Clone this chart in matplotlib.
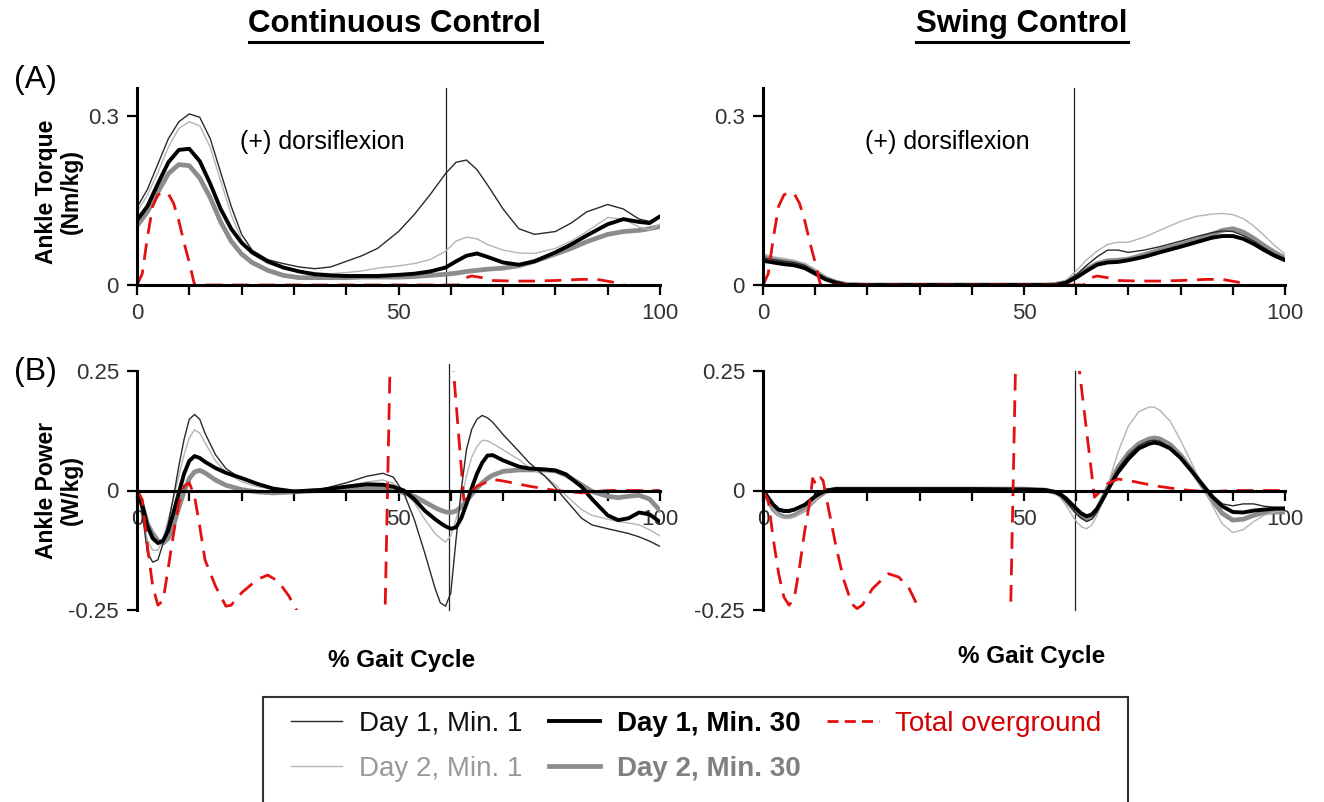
import numpy as np
import matplotlib
matplotlib.use('Agg')
import matplotlib.pyplot as plt
from matplotlib.lines import Line2D
from matplotlib.patches import Rectangle

plt.rcParams['font.family'] = ['Liberation Sans', 'DejaVu Sans']

# ---------------- data ----------------
# (A) ankle torque, continuous control
xa = [0, 2, 4, 6, 8, 10, 12, 14, 16, 18, 20, 22, 25, 28, 31, 34, 37, 40, 43, 46, 50, 53,
      56, 59, 61, 63, 65, 67, 70, 73, 76, 80, 83, 86, 90, 93, 96, 98, 100]
torque_cont_d1m1 = [0.138, 0.17, 0.215, 0.26, 0.29, 0.304, 0.298, 0.26, 0.2, 0.14, 0.09, 0.062,
                    0.045, 0.038, 0.032, 0.029, 0.032, 0.042, 0.052, 0.065, 0.095, 0.125, 0.16,
                    0.198, 0.218, 0.222, 0.205, 0.178, 0.135, 0.1, 0.09, 0.095, 0.11, 0.13,
                    0.143, 0.135, 0.117, 0.113, 0.123]
torque_cont_d2m1 = [0.13, 0.16, 0.2, 0.245, 0.278, 0.29, 0.283, 0.245, 0.185, 0.125, 0.08, 0.055,
                    0.038, 0.03, 0.025, 0.022, 0.02, 0.022, 0.025, 0.03, 0.034, 0.038, 0.045,
                    0.06, 0.078, 0.085, 0.082, 0.072, 0.062, 0.057, 0.056, 0.065, 0.078, 0.095,
                    0.12, 0.117, 0.103, 0.098, 0.108]
torque_cont_d1m30 = [0.115, 0.14, 0.18, 0.218, 0.24, 0.242, 0.22, 0.18, 0.135, 0.1, 0.075, 0.058,
                     0.042, 0.031, 0.024, 0.019, 0.017, 0.016, 0.016, 0.016, 0.018, 0.02, 0.024,
                     0.031, 0.042, 0.052, 0.056, 0.05, 0.04, 0.036, 0.042, 0.058, 0.072, 0.088,
                     0.108, 0.117, 0.112, 0.11, 0.122]
torque_cont_d2m30 = [0.105, 0.13, 0.165, 0.198, 0.214, 0.212, 0.19, 0.155, 0.112, 0.078, 0.055,
                     0.04, 0.026, 0.017, 0.013, 0.013, 0.013, 0.013, 0.014, 0.014, 0.014, 0.015,
                     0.017, 0.019, 0.021, 0.024, 0.026, 0.028, 0.03, 0.034, 0.042, 0.055, 0.065,
                     0.077, 0.09, 0.095, 0.097, 0.1, 0.104]

# (A) ankle torque, swing control
xb = [0, 2, 4, 6, 8, 10, 12, 14, 16, 20, 30, 40, 50, 54, 56, 58, 60, 62, 64, 66, 68, 70, 73,
      76, 80, 83, 86, 88, 90, 92, 94, 96, 98, 100]
torque_swing_d1m1 = [0.048, 0.045, 0.042, 0.04, 0.035, 0.024, 0.012, 0.005, 0.001, 0, 0, 0, 0,
                     0, 0.001, 0.006, 0.018, 0.035, 0.05, 0.062, 0.062, 0.058, 0.062, 0.068,
                     0.078, 0.086, 0.093, 0.096, 0.095, 0.088, 0.078, 0.066, 0.055, 0.047]
torque_swing_d2m1 = [0.055, 0.05, 0.047, 0.044, 0.038, 0.026, 0.013, 0.005, 0.001, 0, 0, 0, 0,
                     0, 0.001, 0.008, 0.025, 0.045, 0.06, 0.072, 0.076, 0.076, 0.085, 0.097,
                     0.113, 0.122, 0.126, 0.127, 0.125, 0.118, 0.105, 0.088, 0.07, 0.055]
torque_swing_d1m30 = [0.043, 0.04, 0.037, 0.035, 0.03, 0.02, 0.01, 0.004, 0.0, 0, 0, 0, 0, 0,
                      0.0, 0.004, 0.013, 0.025, 0.036, 0.04, 0.041, 0.044, 0.05, 0.058, 0.068,
                      0.076, 0.084, 0.087, 0.087, 0.082, 0.073, 0.062, 0.052, 0.044]
torque_swing_d2m30 = [0.05, 0.046, 0.043, 0.04, 0.035, 0.024, 0.012, 0.005, 0.001, 0, 0, 0, 0,
                      0, 0.001, 0.005, 0.015, 0.028, 0.038, 0.043, 0.044, 0.046, 0.054, 0.062,
                      0.072, 0.08, 0.09, 0.097, 0.1, 0.094, 0.083, 0.07, 0.058, 0.048]

# (A) total overground torque
torque_og_x = [0, 1, 2, 3, 4, 5, 6, 7, 8, 9, 10, 11, 20, 40, 61.5, 62.5, 64, 66, 68, 72, 76,
               80, 85, 88, 91, 94, 97, 100]
torque_og = [0, 0.02, 0.085, 0.14, 0.16, 0.165, 0.162, 0.145, 0.114, 0.075, 0.04, 0.0, 0, 0, 0,
             0.012, 0.016, 0.013, 0.008, 0.007, 0.007, 0.008, 0.01, 0.01, 0.005, -0.002,
             -0.004, -0.004]

# (B) ankle power, continuous control
xc = [0, 1, 2, 3, 4, 5, 6, 7, 8, 9, 10, 11, 12, 13, 15, 17, 20, 23, 26, 30, 35, 40, 44, 47, 49,
      51, 53, 55, 57, 58, 59, 60, 61, 62, 63, 64, 65, 66, 67, 68, 70, 73, 75, 78, 80, 82, 85,
      87, 90, 92, 94, 96, 98, 100]
power_cont_d1m1 = [0, -0.047, -0.13, -0.15, -0.145, -0.11, -0.068, -0.012, 0.051, 0.107, 0.149,
                   0.159, 0.149, 0.12, 0.075, 0.046, 0.024, 0.012, 0.005, -0.001, 0.002, 0.016,
                   0.03, 0.036, 0.028, -0.005, -0.06, -0.13, -0.205, -0.235, -0.242, -0.214,
                   -0.103, 0.002, 0.086, 0.128, 0.149, 0.157, 0.152, 0.143, 0.117, 0.082, 0.058,
                   0.03, 0.006, -0.02, -0.058, -0.072, -0.08, -0.085, -0.09, -0.097, -0.106,
                   -0.117]
power_cont_d2m1 = [0, -0.04, -0.105, -0.125, -0.125, -0.1, -0.06, -0.015, 0.03, 0.075, 0.11,
                   0.127, 0.12, 0.1, 0.062, 0.038, 0.018, 0.008, 0.003, 0.0, 0.003, 0.01, 0.018,
                   0.022, 0.015, -0.003, -0.025, -0.06, -0.09, -0.1, -0.108, -0.095, -0.06,
                   -0.02, 0.03, 0.07, 0.092, 0.105, 0.104, 0.098, 0.085, 0.065, 0.048, 0.03,
                   0.012, -0.01, -0.04, -0.052, -0.06, -0.065, -0.068, -0.072, -0.082, -0.095]
power_cont_d1m30 = [0, -0.03, -0.075, -0.1, -0.11, -0.105, -0.083, -0.045, -0.005, 0.035, 0.062,
                    0.072, 0.068, 0.06, 0.047, 0.037, 0.026, 0.014, 0.004, -0.002, 0.001, 0.008,
                    0.013, 0.012, 0.008, 0.0, -0.018, -0.042, -0.06, -0.068, -0.075, -0.08,
                    -0.077, -0.058, -0.028, 0.005, 0.035, 0.058, 0.073, 0.074, 0.063, 0.05,
                    0.046, 0.044, 0.042, 0.034, 0.008, -0.018, -0.052, -0.062, -0.058, -0.046,
                    -0.05, -0.066]
power_cont_d2m30 = [0, -0.03, -0.07, -0.09, -0.105, -0.11, -0.1, -0.072, -0.036, -0.002, 0.025,
                    0.039, 0.042, 0.037, 0.022, 0.011, 0.002, -0.003, -0.005, -0.003, 0.0, 0.004,
                    0.006, 0.004, 0.002, -0.005, -0.012, -0.024, -0.036, -0.041, -0.045, -0.046,
                    -0.043, -0.035, -0.022, -0.008, 0.005, 0.016, 0.025, 0.032, 0.04, 0.043,
                    0.043, 0.043, 0.041, 0.032, 0.012, -0.002, -0.012, -0.015, -0.012, -0.01,
                    -0.018, -0.042]
power_og_cont_x = [0, 1, 2, 3, 4, 5, 6, 7, 8, 9, 10, 11, 12, 13, 15, 17, 18, 20, 23, 25, 27, 29,
                   30.5, 32, 46.8, 49, 59.5, 60.3, 62.5, 63, 65, 68, 70, 75, 80, 85, 90, 100]
power_og_cont = [0, -0.019, -0.117, -0.2, -0.24, -0.23, -0.16, -0.09, -0.026, 0.009, 0.016,
                 -0.012, -0.075, -0.145, -0.2, -0.242, -0.24, -0.214, -0.186, -0.177, -0.19,
                 -0.22, -0.25, -0.4, -0.6, 0.6, 0.6, 0.28, -0.02, -0.012, 0.009, 0.023, 0.02,
                 0.009, 0.0, -0.005, 0.0, 0.0]

# (B) ankle power, swing control
xd = [0, 1, 2, 3, 4, 5, 6, 8, 10, 12, 14, 20, 30, 40, 50, 54, 56, 57, 58, 59, 60, 61, 62, 63,
      64, 65, 66, 67, 68, 70, 72, 74, 75, 76, 78, 80, 82, 84, 86, 88, 90, 92, 94, 96, 98, 100]
power_swing_d1m1 = [0, -0.015, -0.03, -0.038, -0.04, -0.04, -0.038, -0.028, -0.01, 0.0, 0.002,
                    0.002, 0.002, 0.002, 0.002, 0.0, -0.005, -0.012, -0.022, -0.035, -0.048,
                    -0.058, -0.065, -0.06, -0.045, -0.022, 0.002, 0.025, 0.045, 0.074, 0.094,
                    0.104, 0.105, 0.103, 0.09, 0.07, 0.045, 0.015, -0.01, -0.028, -0.032,
                    -0.028, -0.028, -0.033, -0.035, -0.035]
power_swing_d2m1 = [0, -0.02, -0.04, -0.052, -0.058, -0.058, -0.055, -0.042, -0.02, -0.003,
                    0.002, 0.002, 0.002, 0.002, 0.002, 0.0, -0.006, -0.016, -0.03, -0.048,
                    -0.064, -0.076, -0.08, -0.072, -0.052, -0.025, 0.008, 0.045, 0.08, 0.135,
                    0.165, 0.175, 0.174, 0.168, 0.145, 0.105, 0.06, 0.015, -0.03, -0.07, -0.088,
                    -0.082, -0.065, -0.052, -0.045, -0.042]
power_swing_d1m30 = [0, -0.015, -0.03, -0.04, -0.043, -0.043, -0.04, -0.03, -0.012, 0.0, 0.003,
                     0.003, 0.003, 0.003, 0.002, 0.001, -0.003, -0.008, -0.016, -0.027, -0.038,
                     -0.048, -0.054, -0.05, -0.038, -0.02, 0.0, 0.02, 0.038, 0.066, 0.088, 0.098,
                     0.1, 0.098, 0.088, 0.068, 0.042, 0.015, -0.012, -0.033, -0.045, -0.046,
                     -0.042, -0.04, -0.038, -0.038]
power_swing_d2m30 = [0, -0.02, -0.04, -0.05, -0.055, -0.055, -0.052, -0.04, -0.018, -0.002,
                     0.003, 0.003, 0.003, 0.003, 0.003, 0.001, -0.004, -0.01, -0.02, -0.032,
                     -0.045, -0.055, -0.06, -0.055, -0.04, -0.018, 0.005, 0.028, 0.048, 0.078,
                     0.098, 0.108, 0.11, 0.108, 0.096, 0.074, 0.045, 0.012, -0.02, -0.048,
                     -0.062, -0.06, -0.052, -0.046, -0.045, -0.045]
power_og_swing_x = [0, 1, 2, 3, 4, 5, 6, 7, 8, 9, 9.5, 10.2, 11, 11.5, 12.5, 14, 15.5, 17, 18,
                    19, 21, 24, 26, 28, 30, 32, 46.8, 49, 59.5, 60.3, 63.5, 64.5, 66, 68, 70,
                    75, 80, 85, 90, 100]
power_og_swing = [0, -0.02, -0.104, -0.174, -0.223, -0.24, -0.225, -0.16, -0.084, -0.021,
                  0.025, 0.012, 0.027, 0.021, -0.035, -0.118, -0.188, -0.237, -0.247, -0.24,
                  -0.205, -0.174, -0.181, -0.205, -0.25, -0.4, -0.6, 0.6, 0.6, 0.28, -0.014,
                  -0.003, 0.014, 0.024, 0.021, 0.01, 0.002, -0.003, 0.0, 0.0]

# toe-off line (% gait cycle)
toe_off = [59, 59.5, 59.7, 59.8]

labels = ['Day 1, Min. 1', 'Day 2, Min. 1', 'Day 1, Min. 30', 'Day 2, Min. 30', 'Total overground']

# ---------------- styles ----------------
styles = [
    dict(color='#2a2a2a', lw=1.0),   # day1 min1
    dict(color='#b4b4b4', lw=1.0),   # day2 min1
    dict(color='#000000', lw=2.8),   # day1 min30
    dict(color='#8c8c8c', lw=3.4),   # day2 min30
]
red = '#e41010'
red_style = dict(color=red, lw=2.0, dashes=(6, 3.5))
draw_order = [3, 1, 0, 2]

fig = plt.figure(figsize=(13.24, 8.02), dpi=100)
W, H = 1324.0, 802.0


def rect(x0, y_top, x1, y_bot):
    return [x0 / W, 1 - y_bot / H, (x1 - x0) / W, (y_bot - y_top) / H]


def setup(ax, ylim, yticks, yticklabels, zero_axis):
    ax.set_xlim(0, 100)
    ax.set_ylim(*ylim)
    for s in ['top', 'right']:
        ax.spines[s].set_visible(False)
    for s in ['left', 'bottom']:
        ax.spines[s].set_linewidth(2.2)
        ax.spines[s].set_zorder(6)
    if zero_axis:
        ax.spines['bottom'].set_position(('data', 0))
    ax.set_xticks(range(0, 101, 10))
    ax.set_xticklabels(['0', '', '', '', '', '50', '', '', '', '', '100'])
    ax.set_yticks(yticks)
    ax.set_yticklabels(yticklabels)
    ax.tick_params(direction='out', length=7, width=1.6, labelsize=16, labelcolor='#333333',
                   pad=6)
    ax.patch.set_alpha(0)


panels = [
    (rect(137, 88, 660, 285), xa, [torque_cont_d1m1, torque_cont_d2m1, torque_cont_d1m30,
                                   torque_cont_d2m30], torque_og_x, torque_og,
     (0, 0.35), [0, 0.3], ['0', '0.3'], False, toe_off[0], (0, 0.35)),
    (rect(763, 88, 1285, 285), xb, [torque_swing_d1m1, torque_swing_d2m1, torque_swing_d1m30,
                                    torque_swing_d2m30], torque_og_x, torque_og,
     (0, 0.35), [0, 0.3], ['0', '0.3'], False, toe_off[1], (0, 0.35)),
    (rect(137, 371, 660, 610), xc, [power_cont_d1m1, power_cont_d2m1, power_cont_d1m30,
                                    power_cont_d2m30], power_og_cont_x, power_og_cont,
     (-0.25, 0.25), [-0.25, 0, 0.25], ['-0.25', '0', '0.25'], True, toe_off[2], (-0.25, 0.265)),
    (rect(763, 371, 1285, 610), xd, [power_swing_d1m1, power_swing_d2m1, power_swing_d1m30,
                                     power_swing_d2m30], power_og_swing_x, power_og_swing,
     (-0.25, 0.25), [-0.25, 0, 0.25], ['-0.25', '0', '0.25'], True, toe_off[3], (-0.25, 0.25)),
]

for r, x, series, rx, ry, ylim, yt, ytl, zero_axis, vx, vspan in panels:
    ax = fig.add_axes(r)
    setup(ax, ylim, yt, ytl, zero_axis)
    ax.plot([vx, vx], vspan, color='#222222', lw=0.9, zorder=1, clip_on=False)
    for i in draw_order:
        ax.plot(x, series[i], zorder=3, solid_capstyle='round', **styles[i])
    ax.plot(rx, ry, zorder=4, **red_style)

# ---------------- texts ----------------
t1 = fig.text(395 / W, 1 - 24 / H, 'Continuous Control', ha='center', va='center',
              fontsize=22.5, fontweight='bold')
t2 = fig.text(1022 / W, 1 - 24 / H, 'Swing Control', ha='center', va='center',
              fontsize=22.5, fontweight='bold')
fig.text(35 / W, 1 - 80 / H, '(A)', ha='center', va='center', fontsize=23)
fig.text(35 / W, 1 - 372 / H, '(B)', ha='center', va='center', fontsize=23)
fig.text(59 / W, 1 - 192 / H, 'Ankle Torque\n(Nm/kg)', ha='center', va='center', rotation=90,
         fontsize=16.5, fontweight='bold', linespacing=1.15)
fig.text(59 / W, 1 - 490 / H, 'Ankle Power\n(W/kg)', ha='center', va='center', rotation=90,
         fontsize=16.5, fontweight='bold', linespacing=1.15)
fig.text(322 / W, 1 - 142 / H, '(+) dorsiflexion', ha='center', va='center', fontsize=18)
fig.text(947 / W, 1 - 142 / H, '(+) dorsiflexion', ha='center', va='center', fontsize=18)
fig.text(402 / W, 1 - 660 / H, '% Gait Cycle', ha='center', va='center', fontsize=17.5,
         fontweight='bold')
fig.text(1032 / W, 1 - 657 / H, '% Gait Cycle', ha='center', va='center', fontsize=17.5,
         fontweight='bold')

# ---------------- legend ----------------
handles = [Line2D([], [], **styles[0]), Line2D([], [], **styles[1]),
           Line2D([], [], **styles[2]), Line2D([], [], **styles[3]),
           Line2D([], [], color=red, lw=2.0, dashes=(4, 2.2))]
leg = fig.legend(handles, labels, ncol=3, loc='upper left', bbox_to_anchor=(291 / W, 1 - 711 / H),
                 frameon=False, fontsize=20, handlelength=1.85, handletextpad=0.6,
                 columnspacing=0.95, labelspacing=0.69, borderpad=0, borderaxespad=0)
text_colors = ['#111111', '#999999', '#000000', '#808080', '#d40000']
text_weights = ['normal', 'normal', 'bold', 'bold', 'normal']
for t, c, w in zip(leg.get_texts(), text_colors, text_weights):
    t.set_color(c)
    t.set_fontweight(w)
fig.patches.append(Rectangle((263 / W, -0.05), (1128 - 263) / W, 0.05 + 1 - 697 / H,
                             transform=fig.transFigure, fill=False, lw=1.5, ec='#333333'))

# underline the column titles
fig.canvas.draw()
rend = fig.canvas.get_renderer()
for t in (t1, t2):
    bb = t.get_window_extent(renderer=rend)
    yline = (bb.y0 - 3) / H
    fig.add_artist(Line2D([bb.x0 / W, bb.x1 / W], [yline, yline], transform=fig.transFigure,
                          color='black', lw=2.2))

fig.savefig('out.png', dpi=100)
